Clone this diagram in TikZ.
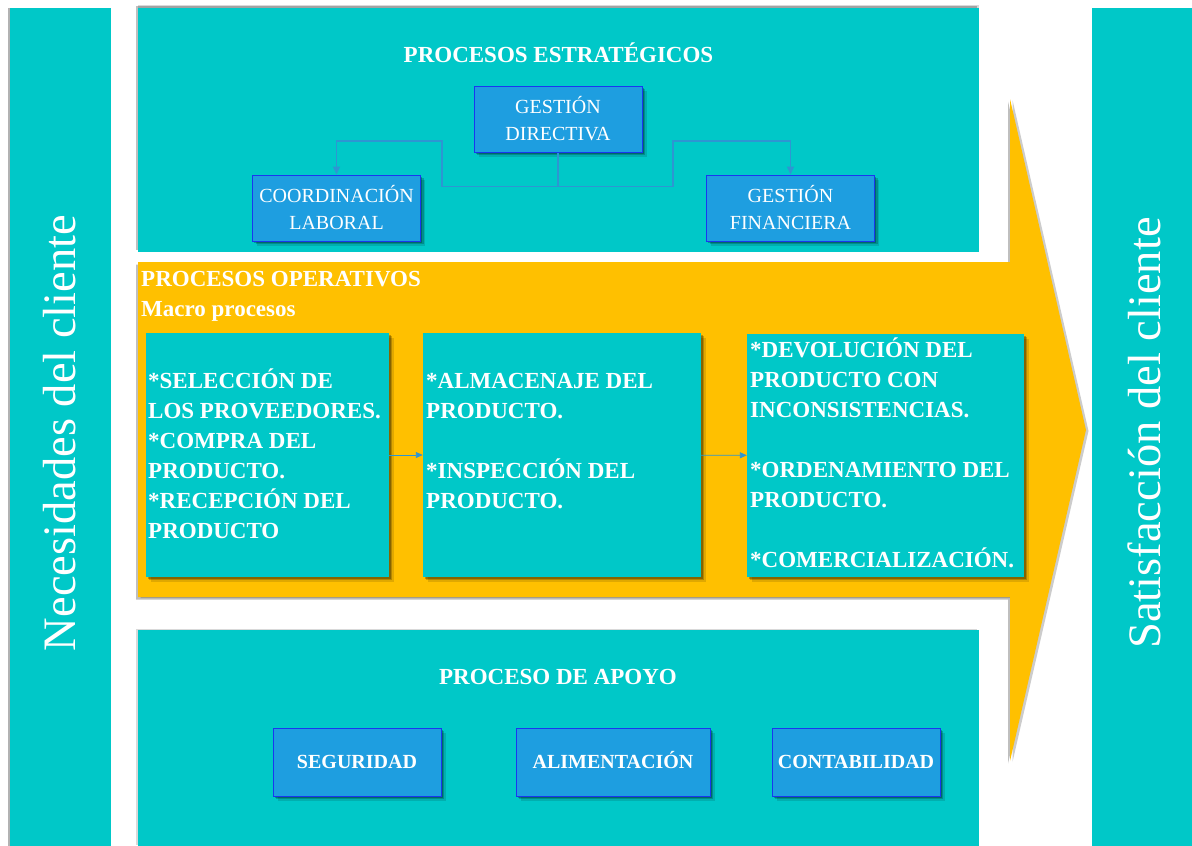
\documentclass[tikz,border=0pt]{standalone}
\usepackage{fontspec}
\setmainfont{Liberation Serif}
\usetikzlibrary{arrows.meta,shadows}

\definecolor{tealfill}{RGB}{0,200,200}
\definecolor{amber}{RGB}{255,192,0}
\definecolor{boxblue}{RGB}{30,158,224}
\definecolor{edgeblue}{RGB}{25,55,240}
\definecolor{linkblue}{RGB}{45,150,210}

\begin{document}
\begin{tikzpicture}[x=1pt,y=-1pt,
  panel/.style={fill=tealfill},
  % layered shadow, soft towards bottom right
  softshadow/.style={
    drop shadow={shadow xshift=1.5pt, shadow yshift=-1.5pt, opacity=.25, fill=black},
    drop shadow={shadow xshift=3pt, shadow yshift=-3pt, opacity=.2, fill=black},
    drop shadow={shadow xshift=4.5pt, shadow yshift=-4.5pt, opacity=.12, fill=black}},
  sidelabel/.style={rotate=90, text=white, inner sep=0pt,
    font=\fontsize{46.5}{50}\selectfont},
  heading/.style={text=white, inner sep=0pt,
    font=\bfseries\fontsize{23}{30}\selectfont},
  bluebox/.style={rectangle, fill=boxblue, draw=edgeblue, line width=1pt,
    text=white, align=center, inner sep=0pt, softshadow},
  stratbox/.style={bluebox, minimum width=168pt, minimum height=66pt,
    font=\fontsize{20}{27}\selectfont},
  supbox/.style={bluebox, minimum height=68pt, text height=13.5pt, text depth=0pt,
    font=\bfseries\fontsize{20}{27}\selectfont},
  opbox/.style={rectangle, fill=tealfill, inner sep=0pt, softshadow},
  optext/.style={text=white, inner sep=0pt, align=left,
    font=\bfseries\fontsize{23}{30}\selectfont},
  link/.style={draw=linkblue, line width=1.6pt,
    -{Triangle[length=8pt,width=7pt]}},
  oplink/.style={draw=linkblue, line width=0.9pt,
    -{Triangle[length=7pt,width=6pt]}}
]
\useasboundingbox (0,0) rectangle (1192,846);
\fill[white] (0,0) rectangle (1192,846);

% side columns
\fill[panel, drop shadow={shadow xshift=-2pt, shadow yshift=0pt, opacity=.3, fill=black}]
  (10,8) rectangle (111,846);
\fill[panel] (1092,8) rectangle (1192,846);
\node[sidelabel] (need) at (60,433) {Necesidades del cliente};
\node[sidelabel] (satis) at (1144,433) {Satisfacción del cliente};

% operational block arrow
\fill[amber,
  drop shadow={shadow xshift=-2pt, shadow yshift=-2.5pt, opacity=.25, fill=black},
  drop shadow={shadow xshift=2.5pt, shadow yshift=-1pt, opacity=.2, fill=black}]
  (138,262) -- (1010,262) -- (1010,99) -- (1086,430) -- (1010,761)
  -- (1010,597) -- (138,597) -- cycle;

% strategic panel
\fill[panel,
  drop shadow={shadow xshift=-2pt, shadow yshift=2pt, opacity=.25, fill=black},
  drop shadow={shadow xshift=0pt, shadow yshift=3.5pt, opacity=.15, fill=black}]
  (138,8) rectangle (979,252);
% support panel
\fill[panel, drop shadow={shadow xshift=-2pt, shadow yshift=1.5pt, opacity=.15, fill=black}]
  (138,630) rectangle (979,846);

% strategic processes
\node[heading, anchor=base] (estr) at (558.5,62.6) {PROCESOS ESTRATÉGICOS};
\node[stratbox] (gd) at (558,119) {GESTIÓN\\DIRECTIVA};
\node[stratbox] (cl) at (336.5,208) {COORDINACIÓN\\LABORAL};
\node[stratbox] (gf) at (790.5,208) {GESTIÓN\\FINANCIERA};
\coordinate (bendL) at (442,141);
\coordinate (bendR) at (673,141);
\draw[link] (gd.south) -- ++(0,34) coordinate (bus) -| (bendL) -| (cl.north);
\draw[link] (bus) -| (bendR) -| (gf.north);

% operational processes
\node[heading, anchor=base west] (oper) at (141,286.7) {PROCESOS OPERATIVOS};
\node[heading, anchor=base west] (macro) at (141,316.7) {Macro procesos};
\node[opbox, minimum width=243pt, minimum height=244pt] (op1) at (267.5,455) {};
\node[opbox, minimum width=278pt, minimum height=244pt] (op2) at (562,455) {};
\node[opbox, minimum width=277pt, minimum height=243pt] (op3) at (885.5,455.5) {};
\draw[oplink] (op1) -- (op2);
\draw[oplink] (op2) -- (op3);
% multi-line blocks are placed by the baseline of their last line
\node[optext, anchor=base west] (t1) at (148,538)
  {{*}SELECCIÓN DE\\LOS PROVEEDORES.\\{*}COMPRA DEL\\PRODUCTO.\\{*}RECEPCIÓN DEL\\PRODUCTO};
\node[optext, anchor=base west] (t2) at (426,508)
  {{*}ALMACENAJE DEL\\PRODUCTO.\\\mbox{}\\{*}INSPECCIÓN DEL\\PRODUCTO.};
\node[optext, anchor=base west] (t3) at (750,567)
  {{*}DEVOLUCIÓN DEL\\PRODUCTO CON\\INCONSISTENCIAS.\\\mbox{}\\{*}ORDENAMIENTO DEL\\PRODUCTO.\\\mbox{}\\{*}COMERCIALIZACIÓN.};

% support processes
\node[heading, anchor=base] (apoyo) at (558,684.6) {PROCESO DE APOYO};
\node[supbox, minimum width=168pt] (seg) at (357,762) {SEGURIDAD};
\node[supbox, minimum width=194pt] (ali) at (613,762) {ALIMENTACIÓN};
\node[supbox, minimum width=168pt] (con) at (856,762) {CONTABILIDAD};
\end{tikzpicture}
\end{document}
